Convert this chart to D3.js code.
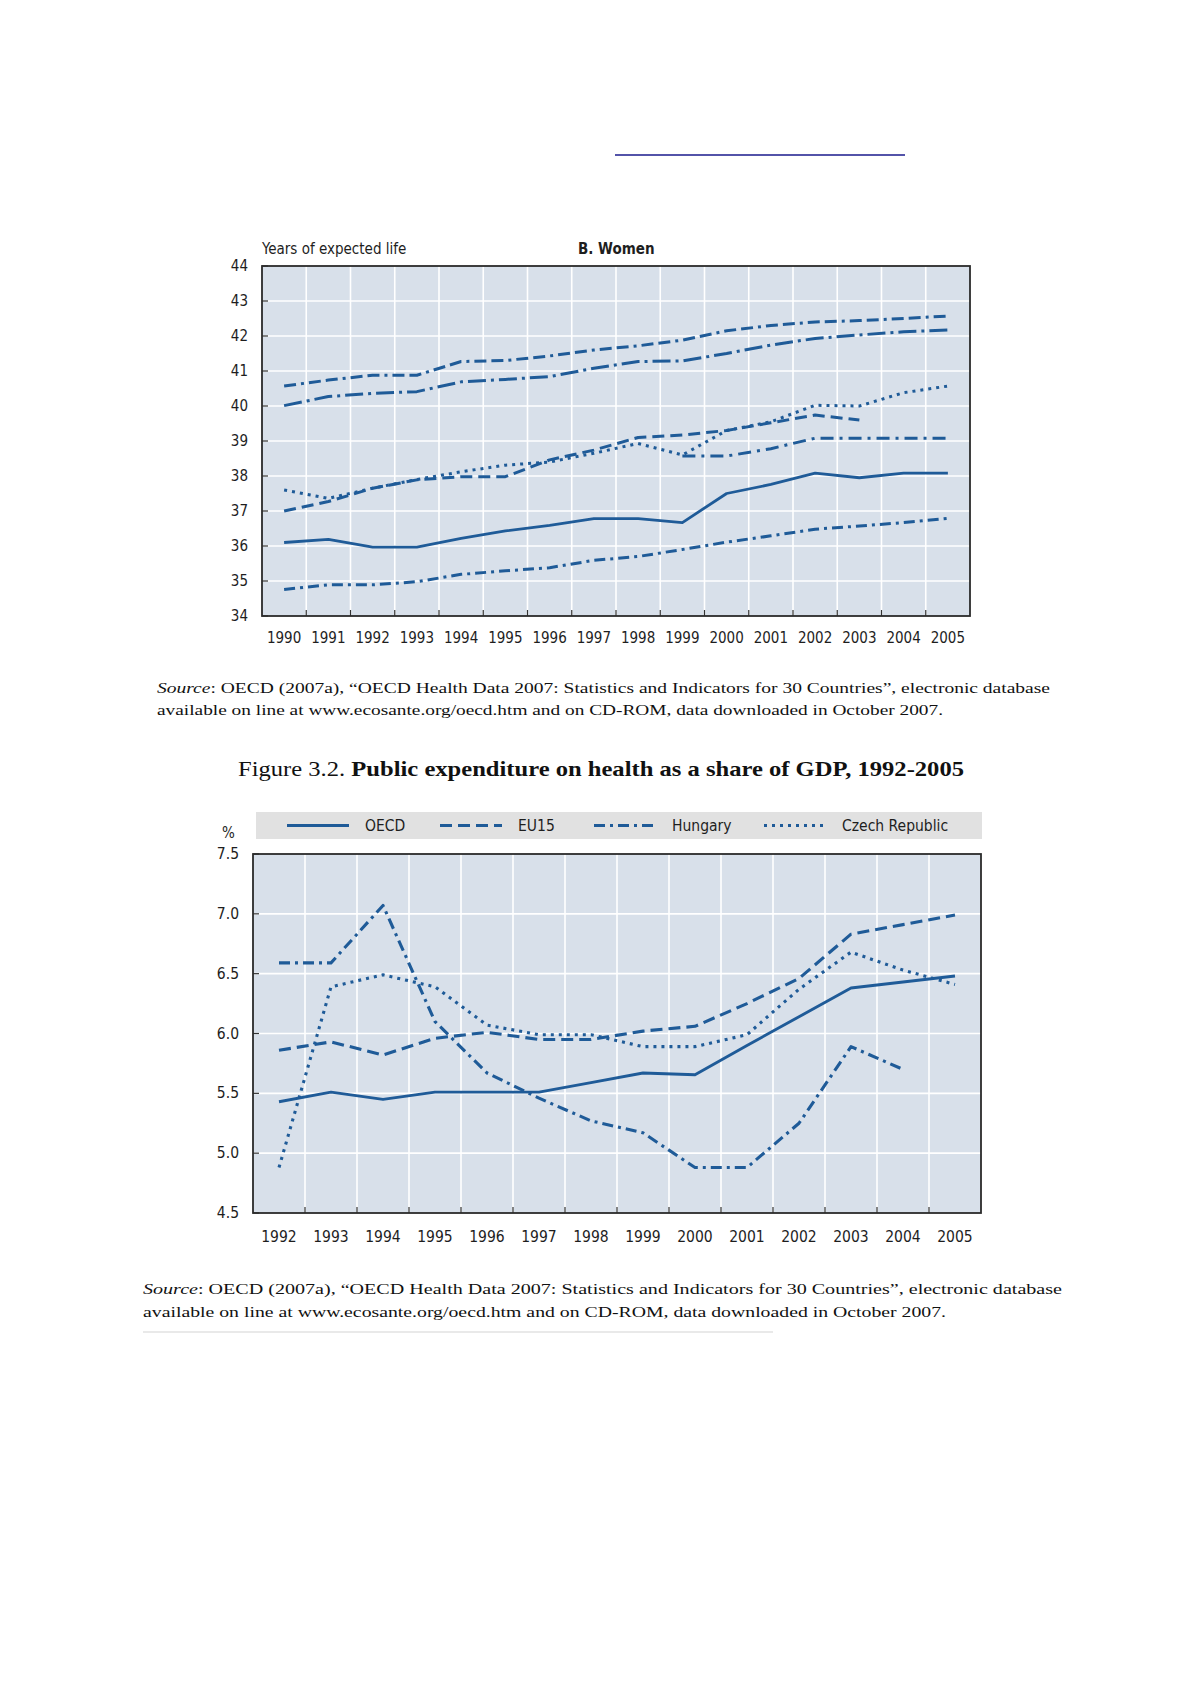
<!DOCTYPE html>
<html>
<head>
<meta charset="utf-8">
<script src="https://cdnjs.cloudflare.com/ajax/libs/d3/7.9.0/d3.min.js"></script>
<style>
  body { margin: 0; background: #fff; }
  svg { display: block; }
  .tick-lab { font-family: "Liberation Sans Narrow", "DejaVu Sans Condensed", "Liberation Sans", sans-serif; fill: #1e1e1e; }
  .serif { font-family: "Liberation Serif", "DejaVu Serif", serif; fill: #111; }
</style>
</head>
<body>
<div id="page"></div>
<script>

// ---- data: panel B, women (years of expected life) ----
const yearsA = d3.range(1990, 2006)
const seriesA1 = [40.57, 40.74, 40.88, 40.88, 41.27, 41.3, 41.43, 41.6, 41.72, 41.88, 42.15, 42.3, 42.4, 42.44, 42.5, 42.57]
const seriesA2 = [40.01, 40.27, 40.36, 40.41, 40.69, 40.76, 40.84, 41.08, 41.27, 41.29, 41.5, 41.74, 41.93, 42.03, 42.12, 42.17]
const seriesA3 = [37.0, 37.27, 37.65, 37.89, 37.98, 37.98, 38.46, 38.74, 39.1, 39.17, 39.3, 39.52, 39.74, 39.6, null, null]
const seriesA4 = [37.6, 37.36, 37.65, 37.9, 38.12, 38.31, 38.4, 38.65, 38.93, 38.6, 39.3, 39.55, 40.02, 40.0, 40.38, 40.57]
const seriesA5 = [null, null, null, null, null, null, null, null, null, 38.57, 38.57, 38.78, 39.08, 39.08, 39.08, 39.08]
const seriesA6 = [36.1, 36.19, 35.97, 35.97, 36.22, 36.43, 36.59, 36.78, 36.78, 36.67, 37.5, 37.76, 38.08, 37.95, 38.08, 38.08]
const seriesA7 = [34.76, 34.89, 34.89, 34.98, 35.19, 35.29, 35.38, 35.59, 35.7, 35.9, 36.11, 36.29, 36.48, 36.57, 36.67, 36.79]
const ticksA = [34, 35, 36, 37, 38, 39, 40, 41, 42, 43, 44]

// ---- data: figure 3.2, public expenditure on health, % of GDP ----
const yearsB = d3.range(1992, 2006)
const oecd = [5.43, 5.51, 5.45, 5.51, 5.51, 5.51, 5.59, 5.67, 5.655, 5.9, 6.14, 6.38, 6.43, 6.48]
const eu15 = [5.86, 5.93, 5.82, 5.96, 6.01, 5.95, 5.95, 6.02, 6.06, 6.25, 6.46, 6.83, 6.91, 6.99]
const hungary = [6.59, 6.59, 7.07, 6.1, 5.67, 5.46, 5.27, 5.17, 4.88, 4.88, 5.25, 5.89, 5.7, null]
const czech = [4.88, 6.39, 6.49, 6.39, 6.07, 5.99, 5.99, 5.89, 5.89, 5.99, 6.37, 6.68, 6.53, 6.41]
const ticksB = [4.5, 5.0, 5.5, 6.0, 6.5, 7.0, 7.5]
const legendNames = ["OECD", "EU15", "Hungary", "Czech Republic"]

const lineColor = "#1f5b98"
const plotFill = "#d8e0ea"

const svg = d3.select("#page").append("svg")
    .attr("width", 1190)
    .attr("height", 1684)

// link underline at the top of the page
svg.append("line")
    .attr("x1", 615).attr("x2", 905)
    .attr("y1", 155).attr("y2", 155)
    .attr("stroke", "#1a1a8c").attr("stroke-width", 1.3)

// draws one framed panel, returns scales
function panel(opts) {
    const g = svg.append("g")
    const x = d3.scaleBand().domain(opts.years).range([opts.left, opts.right]).padding(0)
    const y = d3.scaleLinear().domain(opts.domain).range([opts.bottom, opts.top])

    g.append("rect")
        .attr("x", opts.left).attr("y", opts.top)
        .attr("width", opts.right - opts.left).attr("height", opts.bottom - opts.top)
        .attr("fill", plotFill)

    // horizontal grid
    g.selectAll(".hg").data(opts.ticks.slice(1, -1)).join("line")
        .attr("x1", opts.left).attr("x2", opts.right)
        .attr("y1", d => y(d)).attr("y2", d => y(d))
        .attr("stroke", "#fff").attr("stroke-width", 1.6)

    // vertical grid at band boundaries
    const bounds = opts.years.slice(1).map(d => x(d))
    g.selectAll(".vg").data(bounds).join("line")
        .attr("x1", d => d).attr("x2", d => d)
        .attr("y1", opts.top).attr("y2", opts.bottom)
        .attr("stroke", "#fff").attr("stroke-width", 1.6)

    // inner tick marks
    g.selectAll(".yt").data(opts.ticks).join("line")
        .attr("x1", opts.left).attr("x2", opts.left + 6)
        .attr("y1", d => y(d)).attr("y2", d => y(d))
        .attr("stroke", "#333").attr("stroke-width", 1.2)
    g.selectAll(".xt").data(bounds).join("line")
        .attr("x1", d => d).attr("x2", d => d)
        .attr("y1", opts.bottom).attr("y2", opts.bottom - 6)
        .attr("stroke", "#333").attr("stroke-width", 1.2)

    // frame
    g.append("rect")
        .attr("x", opts.left).attr("y", opts.top)
        .attr("width", opts.right - opts.left).attr("height", opts.bottom - opts.top)
        .attr("fill", "none").attr("stroke", "#2b2b2b").attr("stroke-width", 1.8)

    // labels
    g.selectAll(".yl").data(opts.ticks).join("text")
        .attr("class", "tick-lab")
        .attr("x", opts.left - 14).attr("y", d => y(d) + 5)
        .attr("text-anchor", "end")
        .attr("font-size", opts.fs)
        .text(d => opts.fmt(d))
    g.selectAll(".xl").data(opts.years).join("text")
        .attr("class", "tick-lab")
        .attr("x", d => x(d) + x.bandwidth() / 2).attr("y", opts.bottom + opts.xlabOff)
        .attr("text-anchor", "middle")
        .attr("font-size", opts.fs)
        .text(d => d)

    return {g, x, y}
}

function drawLine(p, years, values, dash, width) {
    const line = d3.line()
        .defined(d => d.v !== null)
        .x(d => p.x(d.year) + p.x.bandwidth() / 2)
        .y(d => p.y(d.v))
    const pts = years.map((yr, i) => ({year: yr, v: values[i]}))
    p.g.append("path")
        .datum(pts)
        .attr("fill", "none")
        .attr("stroke", lineColor)
        .attr("stroke-width", width)
        .attr("stroke-dasharray", dash)
        .attr("stroke-linejoin", "round")
        .attr("d", line)
}

// ---------- panel B. Women ----------
const pA = panel({
    years: yearsA, domain: [34, 44], ticks: ticksA,
    left: 262, right: 970, top: 266, bottom: 616,
    fs: 15, xlabOff: 27, fmt: d => d
})

svg.append("text").attr("class", "tick-lab")
    .attr("x", 262).attr("y", 254).attr("font-size", 15)
    .text("Years of expected life")
svg.append("text").attr("class", "tick-lab")
    .attr("x", 578).attr("y", 254).attr("font-size", 15).attr("font-weight", "bold")
    .text("B.  Women")

drawLine(pA, yearsA, seriesA1, "12,5,3,5,12,5", 3)
drawLine(pA, yearsA, seriesA2, "18,5,3,5", 3)
drawLine(pA, yearsA, seriesA3, "12,6", 3)
drawLine(pA, yearsA, seriesA4, "3,5", 3)
drawLine(pA, yearsA, seriesA5, "13,6,3,6", 3)
drawLine(pA, yearsA, seriesA6, null, 2.8)
drawLine(pA, yearsA, seriesA7, "11,5,3,5", 3)

// source note under each figure
function sourceNote(x, y1, y2, w1, w2) {
    const t1 = svg.append("text").attr("class", "serif")
        .attr("x", x).attr("y", y1).attr("font-size", 15.5)
        .attr("textLength", w1).attr("lengthAdjust", "spacingAndGlyphs")
    t1.append("tspan").attr("font-style", "italic").text("Source")
    t1.append("tspan").text(": OECD (2007a), \u201cOECD Health Data 2007: Statistics and Indicators for 30 Countries\u201d, electronic database")
    svg.append("text").attr("class", "serif")
        .attr("x", x).attr("y", y2).attr("font-size", 15.5)
        .attr("textLength", w2).attr("lengthAdjust", "spacingAndGlyphs")
        .text("available on line at www.ecosante.org/oecd.htm and on CD-ROM, data downloaded in October 2007.")
}
sourceNote(157, 693, 715, 893, 786)

// ---------- Figure 3.2 ----------
const title = svg.append("text").attr("class", "serif")
    .attr("x", 238).attr("y", 776).attr("font-size", 22)
    .attr("textLength", 726).attr("lengthAdjust", "spacingAndGlyphs")
title.append("tspan").text("Figure 3.2. ")
title.append("tspan").attr("font-weight", "bold").text("Public expenditure on health as a share of GDP, 1992-2005")

// legend band
svg.append("rect")
    .attr("x", 256).attr("y", 812).attr("width", 726).attr("height", 27)
    .attr("fill", "#e1e1e1")

const legendDash = [null, "12,6", "11,5,3,5", "3,5"]
const legendX = d3.scaleOrdinal().domain(legendNames).range([287, 440, 594, 764])
legendNames.forEach((name, i) => {
    const lx = legendX(name)
    svg.append("line")
        .attr("x1", lx).attr("x2", lx + 62)
        .attr("y1", 825.5).attr("y2", 825.5)
        .attr("stroke", lineColor).attr("stroke-width", 3)
        .attr("stroke-dasharray", legendDash[i])
    svg.append("text").attr("class", "tick-lab")
        .attr("x", lx + 78).attr("y", 831)
        .attr("font-size", 15.5)
        .text(name)
})

svg.append("text").attr("class", "tick-lab")
    .attr("x", 222).attr("y", 838).attr("font-size", 15)
    .text("%")

const pB = panel({
    years: yearsB, domain: [4.5, 7.5], ticks: ticksB,
    left: 253, right: 981, top: 854, bottom: 1213,
    fs: 15.5, xlabOff: 29, fmt: d3.format(".1f")
})

drawLine(pB, yearsB, oecd, null, 2.9)
drawLine(pB, yearsB, eu15, "12,6", 3.1)
drawLine(pB, yearsB, hungary, "11,5,3,5", 3.1)
drawLine(pB, yearsB, czech, "3,5", 3.1)

sourceNote(143, 1294, 1317, 919, 803)

// thin rule under the second note
svg.append("line")
    .attr("x1", 143).attr("x2", 773)
    .attr("y1", 1332).attr("y2", 1332)
    .attr("stroke", "#e2e2e2").attr("stroke-width", 1.5)

</script>
</body>
</html>
